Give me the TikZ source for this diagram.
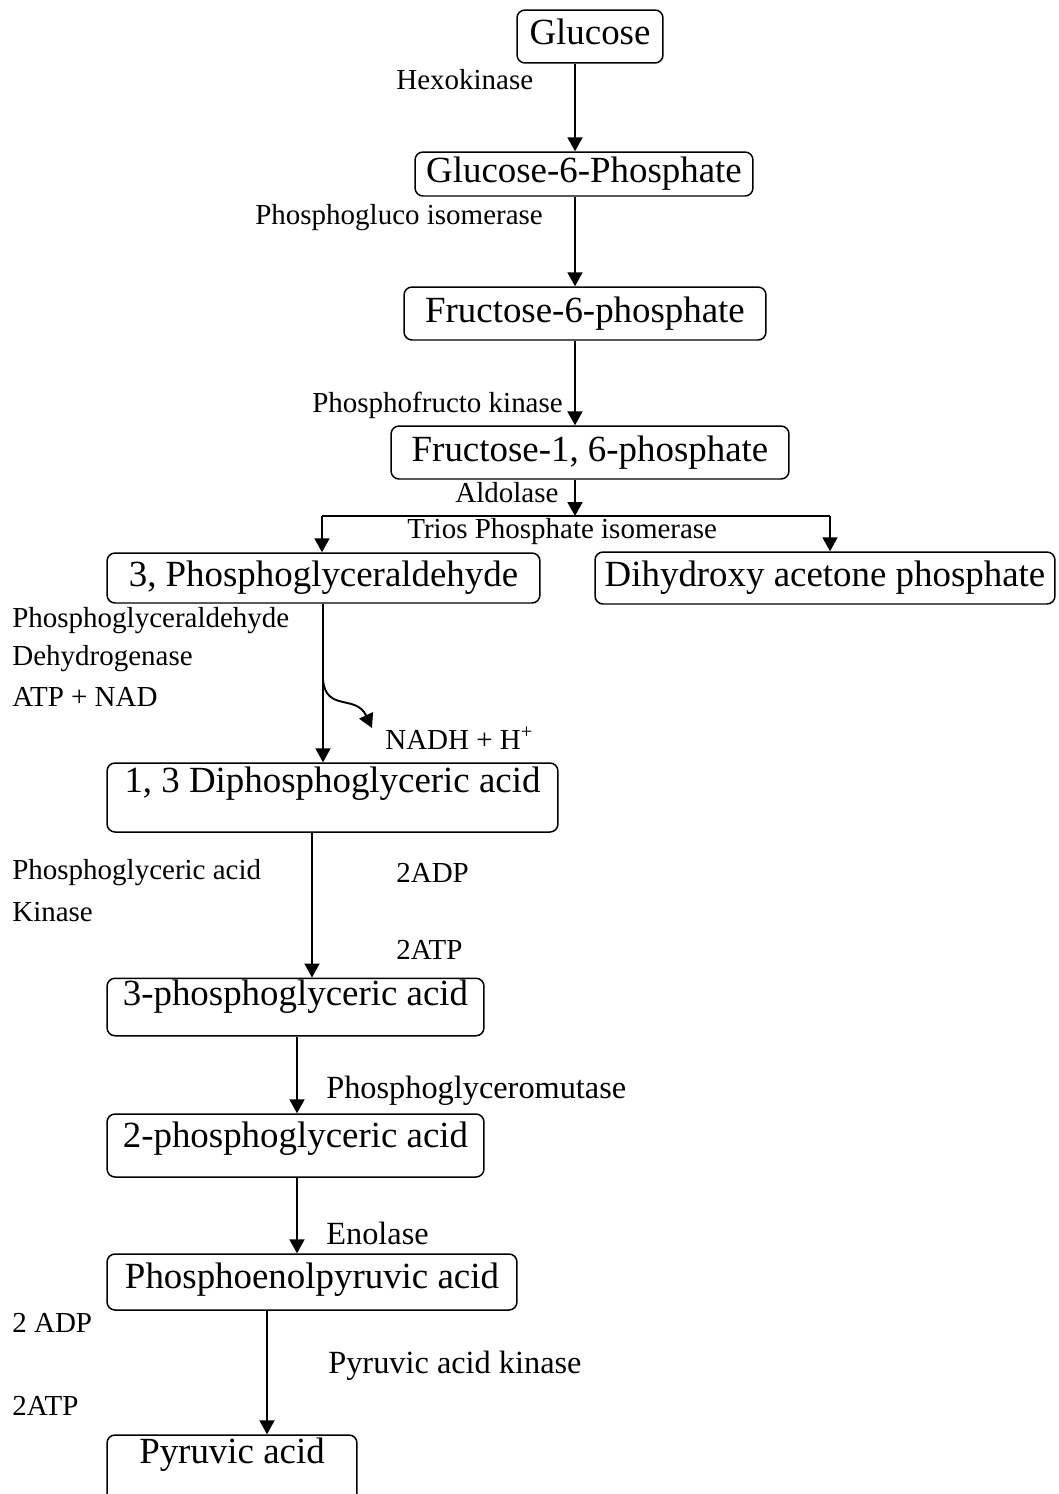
\documentclass[tikz,border=0pt]{standalone}
\usepackage{fontspec}
\setmainfont{Liberation Serif}
\usetikzlibrary{arrows.meta}

\begin{document}
\begin{tikzpicture}[
			x=0.02cm, y=-0.02cm,
			compound/.style={draw=black, line width=0.85pt, rounded corners=0.16cm,
				font=\fontsize{21}{25}\selectfont, inner xsep=2pt, inner ysep=1pt,
				text height=0.5cm, text depth=0.16cm},
			enzyme/.style={font=\fontsize{16.5}{19}\selectfont, inner sep=0pt, anchor=west},
			bigenzyme/.style={enzyme, font=\fontsize{18.4}{21}\selectfont},
			flow/.style={line width=1.1pt, -{Triangle[length=0.28cm,width=0.3cm]}},
			split/.style={line width=1.1pt}
			]
			\clip (0,0) rectangle (1058,1494);
			
			%% Compounds
			\node[compound, minimum width=2.92cm, minimum height=1.06cm] (glu) at (590,36.5) {Glucose};
			\node[compound, minimum width=6.76cm, minimum height=0.88cm] (g6p) at (584,174) {Glucose-6-Phosphate};
			\node[compound, minimum width=7.24cm, minimum height=1.06cm] (f6p) at (585,313.5) {Fructose-6-phosphate};
			\node[compound, minimum width=7.96cm, minimum height=1.06cm] (f16p) at (590,452.5) {Fructose-1, 6-phosphate};
			\node[compound, minimum width=8.66cm, minimum height=1.00cm] (pgal) at (323.5,578) {3, Phosphoglyceraldehyde};
			\node[compound, minimum width=9.20cm, minimum height=1.04cm] (dhap) at (825,578) {Dihydroxy acetone phosphate};
			\node[compound, minimum width=9.02cm, minimum height=1.38cm, text depth=0.72cm] (dpg) at (332.5,797.5) {1, 3 Diphosphoglyceric acid};
			\node[compound, minimum width=7.54cm, minimum height=1.00cm, text depth=0.58cm] (pga3) at (295.5,1007) {3-phosphoglyceric acid};
			\node[compound, minimum width=7.54cm, minimum height=1.26cm, text depth=0.44cm] (pga2) at (295.5,1145.5) {2-phosphoglyceric acid};
			\node[compound, minimum width=8.20cm, minimum height=1.12cm, text depth=0.26cm] (pep) at (312,1282) {Phosphoenolpyruvic acid};
			\node[compound, minimum width=5.00cm, minimum height=1.40cm, text depth=0.78cm] (pyr) at (232,1470) {Pyruvic acid};
			
			%% Enzymes and cofactors
			\node[enzyme] (hexo) at (396,80) {Hexokinase};
			\node[enzyme] (pgi) at (255,218) {Phosphogluco isomerase};
			\node[enzyme] (pfk) at (312,405) {Phosphofructo kinase};
			\node[enzyme] (aldo) at (455,493) {Aldolase};
			\node[enzyme] (tpi) at (407,532) {Trios Phosphate isomerase};
			\node[enzyme] (gapdh1) at (12,621) {Phosphoglyceraldehyde};
			\node[enzyme] (gapdh2) at (12,659) {Dehydrogenase};
			\node[enzyme] (gapdh3) at (12,697) {ATP + NAD};
			\node[enzyme] (nadh) at (385,738) {NADH + H\textsuperscript{+}};
			\node[enzyme] (pgk1) at (12,873) {Phosphoglyceric acid};
			\node[enzyme] (pgk2) at (12,912) {Kinase};
			\node[enzyme] (adpA) at (396,873) {2ADP};
			\node[enzyme] (atpA) at (396,950) {2ATP};
			\node[bigenzyme] (pgm) at (326,1091) {Phosphoglyceromutase};
			\node[bigenzyme] (eno) at (326,1233) {Enolase};
			\node[enzyme] (adpB) at (12,1323) {2 ADP};
			\node[enzyme] (atpB) at (12,1406) {2ATP};
			\node[bigenzyme] (pk) at (328,1366) {Pyruvic acid kinase};
			
			%% Spines
			\coordinate (spineA) at (575,0);
			\coordinate (splitM) at (575,516);
			\coordinate (splitL) at (322,516);
			\coordinate (splitR) at (830,516);
			\coordinate (spineB) at (323,0);
			\coordinate (nadtip) at (372,728);
			\coordinate (spineC) at (312,0);
			\coordinate (spineD) at (297,0);
			\coordinate (spineE) at (267,0);
			
			%% Arrows
			\draw[flow] (glu.south -| spineA) -- (g6p.north -| spineA);
			\draw[flow] (g6p.south -| spineA) -- (f6p.north -| spineA);
			\draw[flow] (f6p.south -| spineA) -- (f16p.north -| spineA);
			\draw[flow] (f16p.south -| spineA) -- (splitM);
			\draw[split] (splitL) -- (splitR);
			\draw[flow] (splitL) -- (pgal.north -| splitL);
			\draw[flow] (splitR) -- (dhap.north -| splitR);
			\draw[flow] (pgal.south -| spineB) -- (dpg.north -| spineB);
			\draw[flow] (323,680) .. controls (326,712) and (356,694) .. (nadtip);
			\draw[flow] (dpg.south -| spineC) -- (pga3.north -| spineC);
			\draw[flow] (pga3.south -| spineD) -- (pga2.north -| spineD);
			\draw[flow] (pga2.south -| spineD) -- (pep.north -| spineD);
			\draw[flow] (pep.south -| spineE) -- (pyr.north -| spineE);
			
\end{tikzpicture}
\end{document}
